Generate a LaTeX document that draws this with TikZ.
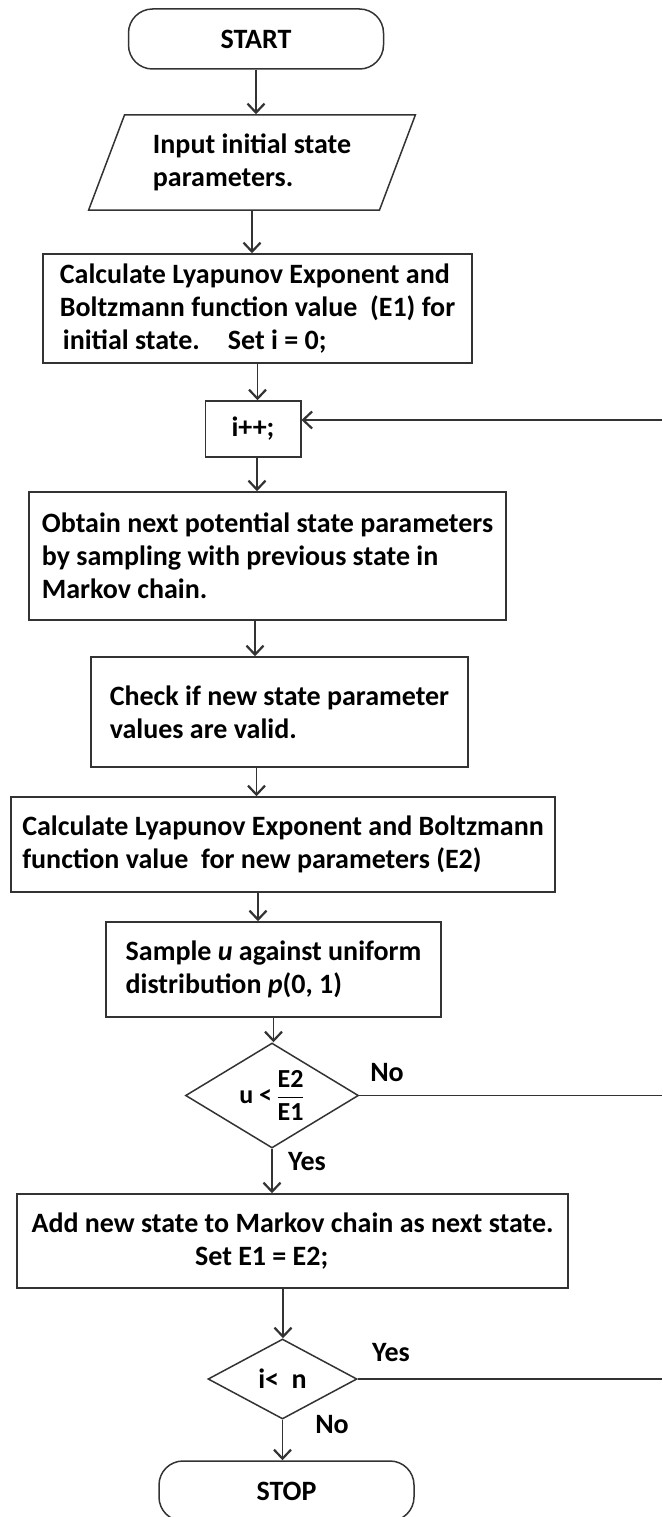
\documentclass[tikz,border=0pt]{standalone}
\usepackage{fontspec}
\setmainfont{Carlito}
\usetikzlibrary{shapes.geometric, arrows.meta}

\tikzset{
  box/.style={draw=black!80, line width=1.5pt, inner sep=0pt,
    font=\fontsize{28}{33}\selectfont\bfseries, align=left},
  term/.style={box, rounded corners=24pt, align=center},
  io/.style={box, trapezium, trapezium left angle=64, trapezium right angle=116,
    trapezium stretches=true},
  test/.style={box, diamond, align=center},
  lbl/.style={font=\fontsize{28}{30}\selectfont\bfseries},
  line/.style={draw=black!80, line width=1.5pt},
  arr/.style={line, -{Straight Barb[length=9pt,width=17pt,line width=2.2pt]}},
}

\begin{document}
\begin{tikzpicture}[x=1pt,y=1pt]
    \useasboundingbox (0,0) rectangle (662,-1517);
    \clip (0,0) rectangle (662,-1517);

    % the blocks, top to bottom
    \node[term, minimum width=255pt, minimum height=60pt] (start) at (256,-39) {START};
    \node[io, minimum width=327pt, minimum height=95pt] (input) at (252,-162.5)
        {Input initial state\\parameters.};
    \node[box, minimum width=429pt, minimum height=109pt] (calc1) at (257.5,-308.5)
        {Calculate Lyapunov Exponent and\\Boltzmann function value~ (E1) for\\\hspace*{3pt}initial state.\quad Set i = 0;};
    \node[box, minimum width=95.5pt, minimum height=56pt, align=center] (ipp) at (253,-429) {i++;};
    \node[box, minimum width=477pt, minimum height=128pt] (obtain) at (267.5,-556)
        {Obtain next potential state parameters\\by sampling with previous state in\\Markov chain.};
    \node[box, minimum width=377pt, minimum height=110pt] (check) at (279.5,-712)
        {Check if new state parameter\\values are valid.};
    \node[box, minimum width=544pt, minimum height=95pt] (calc2) at (283,-844.5)
        {Calculate Lyapunov Exponent and Boltzmann\\function value~ for new parameters (E2)};
    \node[box, minimum width=335pt, minimum height=95pt] (sample) at (273.5,-969.5)
        {Sample \textit{u} against uniform\\distribution \textit{p}(0, 1)};
    \node[test, aspect=1.65, inner sep=-12pt, minimum width=173pt, minimum height=105pt,
        font=\fontsize{26}{30}\selectfont\bfseries] (test1) at (272,-1095.5)
        {u <\,$\displaystyle\frac{\mbox{E2}}{\mbox{E1}}$};
    \node[box, minimum width=551pt, minimum height=94pt, align=center] (add) at (292.5,-1241)
        {Add new state to Markov chain as next state.\\Set E1 = E2;\hspace*{2.2em}};
    \node[test, aspect=1.86, minimum width=149pt, minimum height=80pt] (test2) at (282.5,-1379) {i<~ n};
    \node[term, minimum width=255pt, minimum height=60pt] (stop) at (286.5,-1491) {STOP};

    % branch labels
    \node[lbl] (no1) at (387,-1073) {No};
    \node[lbl] (yes1) at (307,-1162) {Yes};
    \node[lbl] (yes2) at (391,-1353) {Yes};
    \node[lbl] (no2) at (332,-1425) {No};

    % loose ends at the right margin
    \coordinate (rt1) at (662,-420);
    \coordinate (rt2) at (662,-1095.5);
    \coordinate (rt3) at (662,-1379);

    % main flow
    \draw[arr] (start.south) -- (start.south |- input.north);
    \draw[arr] (input.south) -- (input.south |- calc1.north);
    \draw[arr] (calc1.south) -- (calc1.south |- ipp.north);
    \draw[arr] ([xshift=4pt]ipp.south) -- ([xshift=4pt]ipp.south |- obtain.north);
    \draw[arr] ([xshift=-12.5pt]obtain.south) -- ([xshift=-12.5pt]obtain.south |- check.north);
    \draw[arr] ([xshift=-23pt]check.south) -- ([xshift=-23pt]check.south |- calc2.north);
    \draw[arr] ([xshift=-25pt]calc2.south) -- ([xshift=-25pt]calc2.south |- sample.north);
    \draw[arr] (sample.south) -- (sample.south |- test1.north);
    \draw[arr] (test1.south) -- (test1.south |- add.north);
    \draw[arr] ([xshift=-9.5pt]add.south) -- ([xshift=-9.5pt]add.south |- test2.north);
    \draw[arr] (test2.south) -- (test2.south |- stop.north);

    % back to i++
    \draw[arr] (rt1) -- (rt1 -| ipp.east);
    \draw[line] (test1.east) -- (rt2);
    \draw[line] (test2.east) -- (rt3);
\end{tikzpicture}
\end{document}
